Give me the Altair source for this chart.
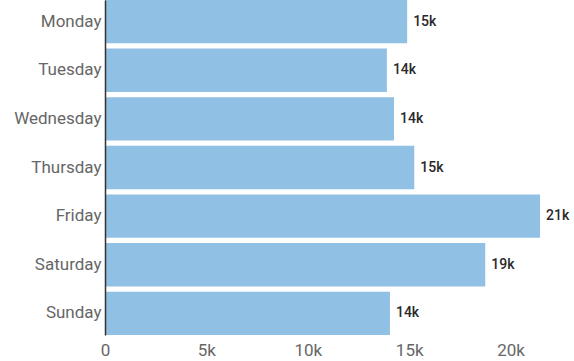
import altair as alt
import pandas as pd

days = ["Monday", "Tuesday", "Wednesday", "Thursday", "Friday", "Saturday", "Sunday"]
visits = [14900, 13900, 14250, 15250, 21450, 18750, 14050]
x_ticks = [0, 5000, 10000, 15000, 20000]

df = pd.DataFrame({"day": days, "visits": visits})

x_enc = alt.X(
    "visits:Q",
    scale=alt.Scale(domain=[0, max(visits)], nice=False),
    axis=alt.Axis(
        title=None, values=x_ticks,
        labelExpr="datum.value == 0 ? '0' : format(datum.value, '~s')",
        domain=False, ticks=False, grid=False, labelFontSize=17,
        labelColor="#666666", labelFont="Roboto", labelPadding=7,
        labelFlush=False,
    ),
)
y_enc = alt.Y(
    "day:N", sort=days,
    scale=alt.Scale(paddingInner=0.11, paddingOuter=0),
    axis=alt.Axis(
        title=None, ticks=False, domain=True, domainColor="#333333",
        domainWidth=1.5, labelFontSize=17, labelColor="#666666",
        labelFont="Roboto", labelPadding=4, grid=False, zindex=1,
    ),
)

bars = alt.Chart(df).mark_bar(color="#90c0e4").encode(x=x_enc, y=y_enc)
labels = alt.Chart(df).mark_text(
    align="left", baseline="middle", dx=6, fontSize=14, font="Roboto",
    fontWeight=500, color="#2a2a2a",
).encode(
    x=alt.X("visits:Q"), y=alt.Y("day:N", sort=days),
    text=alt.Text("visits:Q", format=".2~s"),
)

chart = (bars + labels).properties(
    width=435, height=335,
    autosize=alt.AutoSizeParams(type="none"),
    padding={"left": 105, "top": 0, "right": 34, "bottom": 26},
).configure_view(stroke=None)

chart.save("out.html", embed_options={"renderer": "svg", "actions": False})
